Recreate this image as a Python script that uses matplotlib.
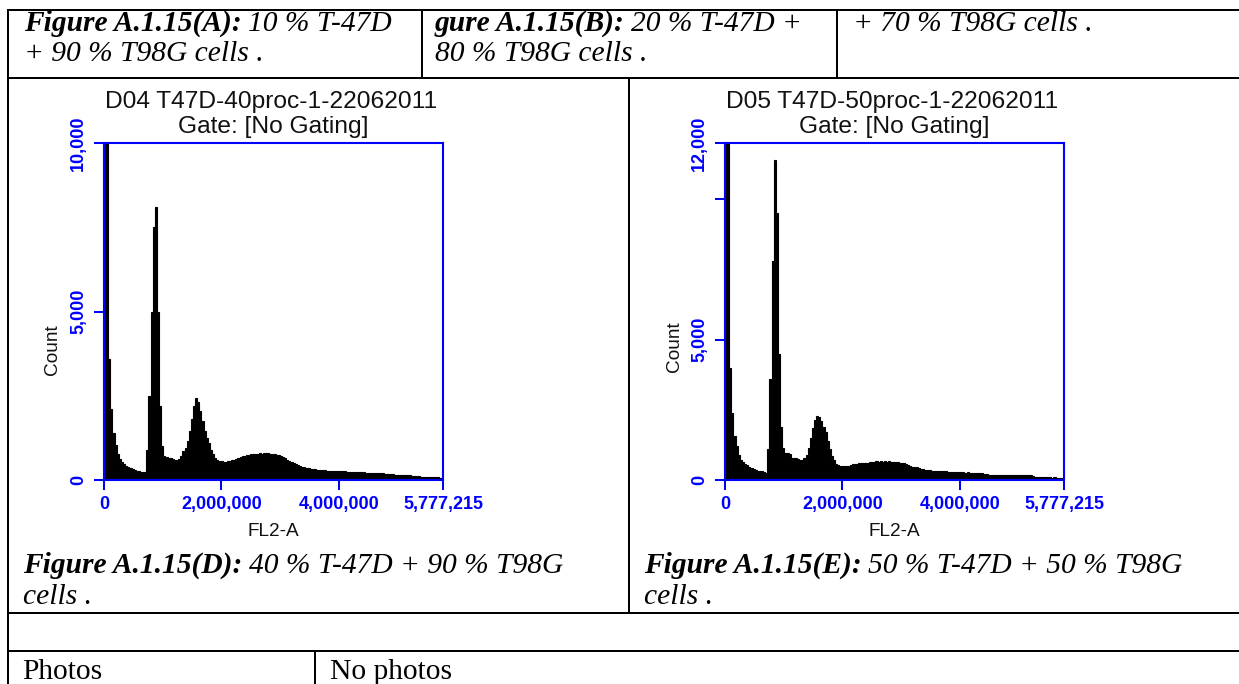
import numpy as np
import matplotlib
matplotlib.use("Agg")
import matplotlib.pyplot as plt

# ---------------------------------------------------------------- data
FL2_MAX = 5777215
N_BINS = 160

# D04 T47D-40proc-1-22062011: counts per FL2-A channel bin
counts_d04 = [
    30000, 20000, 3600, 2100, 1400, 1050, 760, 620, 520, 480,
    420, 380, 350, 320, 290, 280, 260, 250, 240, 250,
    900, 2500, 5000, 7500, 8100, 5000, 2200, 1000, 720, 680,
    650, 640, 620, 600, 600, 610, 700, 850, 950, 1150,
    1450, 1800, 2200, 2430, 2300, 2050, 1750, 1450, 1250, 1100,
    900, 760, 660, 600, 570, 555, 545, 545, 550, 560,
    580, 600, 620, 650, 680, 700, 720, 730, 740, 760,
    770, 770, 780, 790, 780, 790, 800, 790, 780, 770,
    760, 750, 730, 700, 670, 640, 600, 570, 540, 500,
    470, 440, 420, 400, 380, 370, 350, 340, 330, 320,
    310, 300, 300, 290, 285, 280, 280, 275, 270, 270,
    265, 260, 255, 255, 250, 250, 245, 240, 240, 235,
    230, 230, 225, 220, 215, 210, 205, 205, 200, 200,
    195, 195, 190, 185, 180, 175, 170, 160, 155, 150,
    150, 145, 140, 140, 135, 130, 125, 120, 110, 100,
    95, 90, 85, 85, 80, 80, 75, 75, 70, 70,
]

# D05 T47D-50proc-1-22062011: counts per FL2-A channel bin
counts_d05 = [
    40000, 20000, 4000, 2400, 1550, 1200, 900, 700, 650, 560,
    530, 450, 420, 400, 340, 330, 330, 320, 280, 240,
    1100, 3600, 7800, 11400, 9500, 4500, 1900, 1150, 950, 950,
    930, 800, 780, 770, 760, 720, 720, 800, 900, 1150,
    1500, 1850, 2150, 2290, 2250, 2100, 1900, 1700, 1400, 1100,
    850, 700, 570, 520, 510, 510, 500, 510, 500, 520,
    560, 560, 580, 600, 610, 620, 600, 620, 630, 650,
    640, 660, 650, 670, 650, 660, 650, 660, 640, 650,
    640, 630, 610, 600, 590, 570, 520, 500, 480, 470,
    450, 420, 400, 380, 350, 340, 340, 335, 330, 330,
    330, 325, 320, 320, 310, 290, 280, 280, 275, 270,
    275, 270, 270, 265, 270, 265, 260, 260, 250, 240,
    240, 235, 230, 200, 180, 180, 178, 178, 176, 180,
    178, 175, 178, 176, 175, 178, 176, 175, 172, 175,
    170, 172, 170, 168, 165, 160, 100, 95, 95, 92,
    95, 90, 92, 90, 88, 90, 88, 85, 88, 85,
]

x_ticks = [0, 2000000, 4000000, 5777215]
x_tick_labels = ["0", "2,000,000", "4,000,000", "5,777,215"]

d04_ymax = 10000
d04_y_ticks = [0, 5000, 10000]
d04_y_tick_labels = ["0", "5,000", "10,000"]

d05_ymax = 12000
d05_y_ticks = [0, 5000, 10000, 12000]
d05_y_tick_labels = ["0", "5,000", "", "12,000"]

d04_title = ["D04 T47D-40proc-1-22062011", "Gate: [No Gating]"]
d05_title = ["D05 T47D-50proc-1-22062011", "Gate: [No Gating]"]

# ---------------------------------------------------------------- figure
W, H = 1239, 684
fig = plt.figure(figsize=(W / 100, H / 100), dpi=100)
fig.patch.set_facecolor("white")

# full-figure layer in pixel units (y grows downwards) for the table
tab = fig.add_axes([0, 0, 1, 1], zorder=0)
tab.set_xlim(0, W)
tab.set_ylim(H, 0)
tab.axis("off")

BLUE = "#0000ff"
SANS = "Liberation Sans"
SERIF = "Liberation Serif"
PT = 72 / 100  # points per pixel


def px_axes(x0, y0, x1, y1):
    return fig.add_axes([x0 / W, 1 - y1 / H, (x1 - x0) / W, (y1 - y0) / H], zorder=2)


def histogram_panel(ax, counts, ymax, yticks, ylabels, title, cx, count_xy):
    edges = np.linspace(0, FL2_MAX, N_BINS + 1)
    ax.stairs(counts, edges, fill=True, facecolor="black", edgecolor="black",
              linewidth=0.8)
    ax.set_xlim(0, FL2_MAX)
    ax.set_ylim(0, ymax)
    ax.set_facecolor("none")
    for sp in ax.spines.values():
        sp.set_color(BLUE)
        sp.set_linewidth(1.5)
        sp.set_zorder(3)
    ax.set_xticks(x_ticks)
    ax.set_xticklabels(x_tick_labels)
    ax.set_yticks(yticks)
    ax.set_yticklabels(ylabels, rotation=90, va="center")
    ax.tick_params(direction="out", length=10 * PT, width=2 * PT, color=BLUE,
                   labelcolor=BLUE, labelsize=18 * PT)
    ax.tick_params(axis="x", pad=4)
    ax.tick_params(axis="y", pad=5)
    for lab in ax.get_xticklabels() + ax.get_yticklabels():
        lab.set_fontfamily(SANS)
        lab.set_fontweight("bold")
    tab.text(cx - 2, 102, title[0], ha="center", va="center", family=SANS,
             fontsize=24.5 * PT, color="#111111")
    tab.text(cx, 127, title[1], ha="center", va="center", family=SANS,
             fontsize=24.5 * PT, color="#111111")
    tab.text(cx, 532, "FL2-A", ha="center", va="center", family=SANS,
             fontsize=19 * PT, color="#111111")
    tab.text(count_xy[0], count_xy[1], "Count", ha="center", va="center",
             rotation=90, family=SANS, fontsize=19 * PT, color="#111111")


ax1 = px_axes(104, 143, 443, 480)
histogram_panel(ax1, counts_d04, d04_ymax, d04_y_ticks, d04_y_tick_labels,
                d04_title, (104 + 443) / 2, (53, 350))

ax2 = px_axes(725, 143, 1064, 480)
histogram_panel(ax2, counts_d05, d05_ymax, d05_y_ticks, d05_y_tick_labels,
                d05_title, (725 + 1064) / 2, (675, 347))

# ---------------------------------------------------------------- table grid
LW = 2 * PT
grid = [
    ((8, W), (10, 10)),
    ((8, W), (78, 78)),
    ((8, W), (613, 613)),
    ((8, W), (651, 651)),
    ((8, 8), (10, H)),
    ((422, 422), (10, 78)),
    ((837, 837), (10, 78)),
    ((629, 629), (78, 613)),
    ((315, 315), (651, H)),
]
for xs, ys in grid:
    tab.plot(xs, ys, color="black", lw=LW, solid_capstyle="projecting")

# ---------------------------------------------------------------- captions
FS_PX = 29.5
FS = FS_PX * PT
renderer = fig.canvas.get_renderer()


def rich_line(x, y, parts):
    for s, weight in parts:
        t = tab.text(x, y, s, ha="left", va="baseline", family=SERIF,
                     fontsize=FS, fontstyle="italic", fontweight=weight,
                     color="black")
        bb = t.get_window_extent(renderer)
        x += bb.width + 0.22 * FS_PX


rich_line(24, 31, [("Figure A.1.15(A):", "bold"), ("10 % T-47D", "normal")])
rich_line(24, 61, [("+ 90 % T98G cells .", "normal")])
rich_line(435, 31, [("gure A.1.15(B):", "bold"), ("20 % T-47D +", "normal")])
rich_line(435, 61, [("80 % T98G cells .", "normal")])
rich_line(853, 31, [("+ 70 % T98G cells .", "normal")])

rich_line(23, 573, [("Figure A.1.15(D):", "bold"), ("40 % T-47D + 90 % T98G", "normal")])
rich_line(23, 604, [("cells .", "normal")])
rich_line(644, 573, [("Figure A.1.15(E):", "bold"), ("50 % T-47D + 50 % T98G", "normal")])
rich_line(644, 604, [("cells .", "normal")])

tab.text(22, 679, "Photos", ha="left", va="baseline", family=SERIF, fontsize=FS)
tab.text(330, 679, "No photos", ha="left", va="baseline", family=SERIF, fontsize=FS)

fig.savefig("out.png", dpi=100)
